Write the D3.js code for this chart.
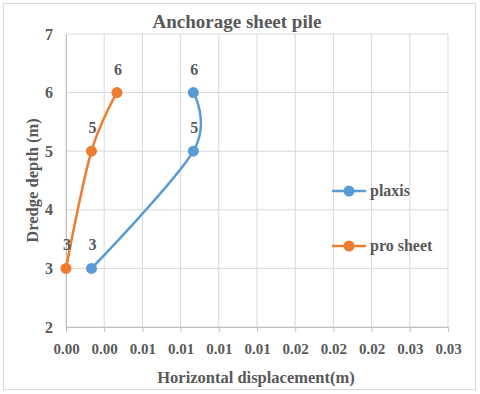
<!DOCTYPE html>
<html>
<head>
<meta charset="utf-8">
<script src="https://cdn.jsdelivr.net/npm/d3@7"></script>
<style>
  body { margin: 0; background: #fff; }
  text { font-family: "Liberation Serif", "Times New Roman", serif; font-weight: bold; fill: #595959; }
</style>
</head>
<body>
<svg id="chart" width="480" height="394"></svg>
<script>
const width = 480;
const height = 394;

// data
const seriesNames = ["plaxis", "pro sheet"];
const seriesColors = ["#5B9BD5", "#ED7D31"];
const depths = [3, 5, 6];
const plaxisDisp = [0.002, 0.01, 0.01];
const proSheetDisp = [0.0, 0.002, 0.004];
const xTicks = [0, 0.003, 0.006, 0.009, 0.012, 0.015, 0.018, 0.021, 0.024, 0.027, 0.03];
const yTicks = [2, 3, 4, 5, 6, 7];

const margin = { top: 34, right: 32, bottom: 67, left: 66 };

const svg = d3.select("#chart");

// outer border
svg.append("rect")
  .attr("x", 3.5).attr("y", 3.5)
  .attr("width", width - 8).attr("height", height - 8)
  .attr("fill", "#fff")
  .attr("stroke", "#d9d9d9");

const x = d3.scaleLinear()
  .domain([0, 0.03])
  .range([margin.left, width - margin.right]);

const y = d3.scaleLinear()
  .domain([2, 7])
  .range([height - margin.bottom, margin.top]);

// grid
svg.append("g")
  .selectAll("line")
  .data(xTicks)
  .join("line")
  .attr("x1", d => x(d)).attr("x2", d => x(d))
  .attr("y1", y(2)).attr("y2", y(7))
  .attr("stroke", "#d9d9d9");

svg.append("g")
  .selectAll("line")
  .data(yTicks)
  .join("line")
  .attr("x1", x(0)).attr("x2", x(0.03))
  .attr("y1", d => y(d)).attr("y2", d => y(d))
  .attr("stroke", "#d9d9d9");

// x axis
const xAxisCall = d3.axisBottom(x)
  .tickValues(xTicks)
  .tickSize(5)
  .tickFormat(d3.format(".2f"));
const gx = svg.append("g")
  .attr("transform", `translate(0, ${y(2)})`)
  .call(xAxisCall);
gx.select(".domain").attr("stroke", "#bfbfbf");
gx.selectAll(".tick line").attr("stroke", "#bfbfbf");
gx.selectAll("text")
  .attr("y", 16)
  .style("font-size", "15px");

// y axis
const yAxisCall = d3.axisLeft(y)
  .tickValues(yTicks)
  .tickSize(0)
  .tickFormat(d3.format("d"));
const gy = svg.append("g")
  .attr("transform", `translate(${x(0)}, 0)`)
  .call(yAxisCall);
gy.select(".domain").attr("stroke", "#bfbfbf");
gy.selectAll("text")
  .attr("x", -13)
  .style("font-size", "16px");

// title
svg.append("text")
  .attr("x", 237)
  .attr("y", 28)
  .attr("text-anchor", "middle")
  .style("font-size", "19px")
  .text("Anchorage sheet pile");

// axis labels
svg.append("text")
  .attr("x", x(0.015) - 1)
  .attr("y", 383)
  .attr("text-anchor", "middle")
  .style("font-size", "16.5px")
  .text("Horizontal displacement(m)");

svg.append("text")
  .attr("transform", `translate(38, ${y(4.5)}) rotate(-90)`)
  .attr("text-anchor", "middle")
  .style("font-size", "16.5px")
  .text("Dredge depth (m)");

// series
const series = [
  { name: seriesNames[0], color: seriesColors[0], values: depths.map((d, i) => ({ x: plaxisDisp[i], y: d })) },
  { name: seriesNames[1], color: seriesColors[1], values: depths.map((d, i) => ({ x: proSheetDisp[i], y: d })) }
];

const line = d3.line()
  .x(d => x(d.x))
  .y(d => y(d.y))
  .curve(d3.curveCardinal.tension(0));

series.forEach(s => {
  const g = svg.append("g");
  g.append("path")
    .datum(s.values)
    .attr("d", line)
    .attr("fill", "none")
    .attr("stroke", s.color)
    .attr("stroke-width", 2.5);
  g.selectAll("circle")
    .data(s.values)
    .join("circle")
    .attr("cx", d => x(d.x))
    .attr("cy", d => y(d.y))
    .attr("r", 5.5)
    .attr("fill", s.color);
  g.selectAll("text")
    .data(s.values)
    .join("text")
    .attr("x", d => x(d.x) + 1)
    .attr("y", d => y(d.y) - 18)
    .attr("text-anchor", "middle")
    .style("font-size", "16px")
    .text(d => d.y);
});

// legend
const legend = svg.append("g")
  .selectAll("g")
  .data(series)
  .join("g")
  .attr("transform", (d, i) => `translate(332, ${191 + i * 55})`);
legend.append("line")
  .attr("x1", 0).attr("x2", 34)
  .attr("stroke", d => d.color)
  .attr("stroke-width", 2.5);
legend.append("circle")
  .attr("cx", 17)
  .attr("r", 5.5)
  .attr("fill", d => d.color);
legend.append("text")
  .attr("x", 38)
  .attr("y", 5)
  .style("font-size", "16px")
  .text(d => d.name);
</script>
</body>
</html>
